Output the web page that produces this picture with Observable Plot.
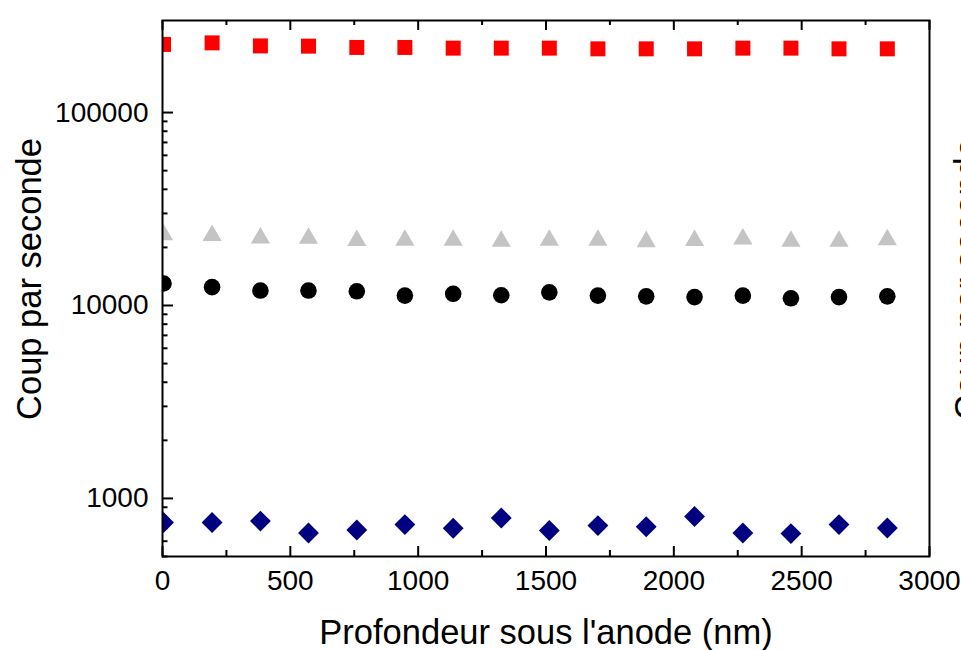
<!DOCTYPE html>
<html>
<head>
<meta charset="utf-8">
<script src="https://cdn.jsdelivr.net/npm/d3@7"></script>
<script src="https://cdn.jsdelivr.net/npm/@observablehq/plot@0.6"></script>
<style>
  html, body { margin: 0; padding: 0; background: #fff; overflow: hidden; }
  svg { display: block; overflow: hidden; }
</style>
</head>
<body>
<div id="chart"></div>
<script>
// Depth under the anode (nm)
const depth = [4, 194, 383, 571, 760, 948, 1137, 1325, 1513, 1703, 1892, 2081, 2270, 2458, 2646, 2835];
// Counts per second, four series
const redSquares   = [225400, 229700, 221500, 220900, 217500, 217500, 215700, 215700, 215700, 213900, 213900, 213900, 215700, 215700, 213900, 213900];
const grayTriangles = [24100, 23900, 23200, 23100, 22500, 22600, 22600, 22300, 22600, 22600, 22200, 22500, 22900, 22300, 22300, 22700];
const blackCircles = [13000, 12450, 11950, 11950, 11850, 11250, 11500, 11300, 11700, 11250, 11150, 11050, 11250, 10900, 11050, 11150];
const navyDiamonds = [750, 750, 763, 662, 686, 732, 700, 792, 682, 723, 713, 806, 662, 657, 732, 703];

// Ticks and labels
const xMajor = [0, 500, 1000, 1500, 2000, 2500, 3000];
const xMinor = [250, 750, 1250, 1750, 2250, 2750];
const yMajor = [1000, 10000, 100000];
const yMinor = [500, 600, 700, 800, 900, 2000, 3000, 4000, 5000, 6000, 7000, 8000, 9000,
                20000, 30000, 40000, 50000, 60000, 70000, 80000, 90000];
const xLabel = "Profondeur sous l'anode (nm)";
const yLabel = "Coup par seconde";

const rows = (vals) => depth.map((d, i) => ({depth: d, value: vals[i]}));

// frame geometry (style)
const W = 961, H = 650, mL = 162, mR = 32, mT = 20, mB = 94;
const fw = W - mL - mR, fh = H - mT - mB;

const plot = Plot.plot({
  width: W,
  height: H,
  marginLeft: mL,
  marginRight: mR,
  marginTop: mT,
  marginBottom: mB,
  style: {fontFamily: "'Liberation Sans', Arial, sans-serif", background: "white", color: "black", overflow: "hidden"},
  x: {domain: [0, 3000]},
  y: {type: "log", domain: [500, 300000]},
  marks: [
    // tick labels
    Plot.axisX(xMajor, {anchor: "bottom", tickSize: 0, tickPadding: 14, fontSize: 28, label: null, tickFormat: d => String(d)}),
    Plot.axisY(yMajor, {anchor: "left", tickSize: 0, tickPadding: 14, fontSize: 28, label: null, tickFormat: d => String(d)}),
    // inward ticks: bottom & top
    Plot.tickX(xMajor, {x: d => d, insetTop: fh - 10, stroke: "black", strokeWidth: 2}),
    Plot.tickX(xMinor, {x: d => d, insetTop: fh - 6, stroke: "black", strokeWidth: 2}),
    Plot.tickX(xMajor, {x: d => d, insetBottom: fh - 10, stroke: "black", strokeWidth: 2}),
    Plot.tickX(xMinor, {x: d => d, insetBottom: fh - 5, stroke: "black", strokeWidth: 2}),
    // inward ticks: left
    Plot.tickY(yMajor, {y: d => d, insetRight: fw - 11, stroke: "black", strokeWidth: 2}),
    Plot.tickY(yMinor, {y: d => d, insetRight: fw - 5.5, stroke: "black", strokeWidth: 2}),
    // data
    Plot.dot(rows(redSquares), {x: "depth", y: "value", symbol: "square", r: 8.46, fill: "#ff0000", clip: true}),
    Plot.dot(rows(grayTriangles), {x: "depth", y: "value", symbol: "triangle", r: 7.1, dy: 3, fill: "#c4c4c4", clip: true}),
    Plot.dot(rows(blackCircles), {x: "depth", y: "value", symbol: "circle", r: 8.3, fill: "#000000", clip: true}),
    Plot.dot(rows(navyDiamonds), {x: "depth", y: "value", symbol: "diamond2", r: 9.4, fill: "#000080", clip: true}),
    // frame
    Plot.frame({stroke: "black", strokeWidth: 2}),
    // axis titles
    Plot.text([xLabel], {text: d => d, frameAnchor: "bottom", textAnchor: "middle", lineAnchor: "middle", dy: 76, fontSize: 34.5, fill: "black"}),
    Plot.text([yLabel], {text: d => d, frameAnchor: "left", textAnchor: "middle", lineAnchor: "middle", rotate: -90, dx: -132.5, dy: -9.5, fontSize: 34.5, fill: "black"}),
    Plot.text([yLabel], {text: d => d, frameAnchor: "right", textAnchor: "middle", lineAnchor: "middle", rotate: -90, dx: 38, dy: -9.5, fontSize: 34.5, fill: "black"})
  ]
});

document.getElementById("chart").appendChild(plot);
</script>
</body>
</html>
